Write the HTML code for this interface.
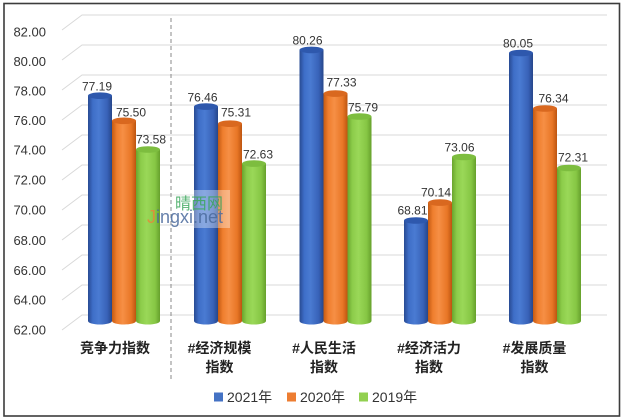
<!DOCTYPE html>
<html><head><meta charset="utf-8">
<style>
html,body{margin:0;padding:0;background:#fff;}
svg{display:block;}
text{font-family:"Liberation Sans","Noto Sans CJK SC",sans-serif;}
</style></head>
<body>
<svg width="626" height="420" viewBox="0 0 626 420" xmlns="http://www.w3.org/2000/svg">
<defs>
<linearGradient id="gb" x1="0" x2="1" y1="0" y2="0">
<stop offset="0" stop-color="#284a92"/><stop offset="0.2" stop-color="#3e6ec8"/><stop offset="0.45" stop-color="#4a7bd2"/><stop offset="0.8" stop-color="#3862b8"/><stop offset="1" stop-color="#26468a"/>
</linearGradient>
<linearGradient id="go" x1="0" x2="1" y1="0" y2="0">
<stop offset="0" stop-color="#c45a12"/><stop offset="0.2" stop-color="#ef7e2e"/><stop offset="0.45" stop-color="#f68f45"/><stop offset="0.8" stop-color="#e87626"/><stop offset="1" stop-color="#bd5510"/>
</linearGradient>
<linearGradient id="gg" x1="0" x2="1" y1="0" y2="0">
<stop offset="0" stop-color="#6aa52e"/><stop offset="0.2" stop-color="#8ccc4a"/><stop offset="0.45" stop-color="#9ad858"/><stop offset="0.8" stop-color="#86c644"/><stop offset="1" stop-color="#66a02c"/>
</linearGradient>
</defs>
<rect x="0" y="0" width="626" height="420" fill="#fff"/>
<rect x="4" y="3.5" width="615.5" height="412.5" fill="#fff" stroke="#3c3c3c" stroke-width="1.6"/>

<!-- gridlines -->
<g stroke="#d9d9d9" stroke-width="1" fill="none">
<path d="M62 30 L82 15 L607 15"/>
<path d="M62 60 L82 45 L607 45"/>
<path d="M62 90 L82 75 L607 75"/>
<path d="M62 120 L82 105 L607 105"/>
<path d="M62 150 L82 135 L607 135"/>
<path d="M62 180 L82 165 L607 165"/>
<path d="M62 210 L82 195 L607 195"/>
<path d="M62 240 L82 225 L607 225"/>
<path d="M62 270 L82 255 L607 255"/>
<path d="M62 300 L82 285 L607 285"/>
<path d="M62 330 L82 315 L607 315"/>
</g>

<!-- y labels -->
<g font-size="13" fill="#333" text-anchor="end">
<text x="46" y="36.5">82.00</text>
<text x="46" y="66">80.00</text>
<text x="46" y="95.5">78.00</text>
<text x="46" y="125">76.00</text>
<text x="46" y="154.5">74.00</text>
<text x="46" y="184.5">72.00</text>
<text x="46" y="214.5">70.00</text>
<text x="46" y="245">68.00</text>
<text x="46" y="275">66.00</text>
<text x="46" y="304.5">64.00</text>
<text x="46" y="334.5">62.00</text>
</g>

<!-- dashed divider -->
<line x1="171" y1="18" x2="171" y2="380" stroke="#8a8a8a" stroke-width="1" stroke-dasharray="4,3"/>

<!-- bars -->
<g>
<rect x="88" y="95.7" width="24" height="225.3" fill="url(#gb)"/><ellipse cx="100" cy="321" rx="12" ry="3.5" fill="url(#gb)"/><ellipse cx="100" cy="95.7" rx="12" ry="3.3" fill="#2e58ad"/>
<rect x="112" y="120.8" width="24" height="200.2" fill="url(#go)"/><ellipse cx="124" cy="321" rx="12" ry="3.5" fill="url(#go)"/><ellipse cx="124" cy="120.8" rx="12" ry="3.3" fill="#d9681f"/>
<rect x="136" y="149.5" width="24" height="171.5" fill="url(#gg)"/><ellipse cx="148" cy="321" rx="12" ry="3.5" fill="url(#gg)"/><ellipse cx="148" cy="149.5" rx="12" ry="3.3" fill="#7dbd3f"/>
<rect x="194" y="106.6" width="24" height="214.4" fill="url(#gb)"/><ellipse cx="206" cy="321" rx="12" ry="3.5" fill="url(#gb)"/><ellipse cx="206" cy="106.6" rx="12" ry="3.3" fill="#2e58ad"/>
<rect x="218" y="123.7" width="24" height="197.3" fill="url(#go)"/><ellipse cx="230" cy="321" rx="12" ry="3.5" fill="url(#go)"/><ellipse cx="230" cy="123.7" rx="12" ry="3.3" fill="#d9681f"/>
<rect x="242" y="163.6" width="24" height="157.4" fill="url(#gg)"/><ellipse cx="254" cy="321" rx="12" ry="3.5" fill="url(#gg)"/><ellipse cx="254" cy="163.6" rx="12" ry="3.3" fill="#7dbd3f"/>
<rect x="299.5" y="49.9" width="24" height="271.1" fill="url(#gb)"/><ellipse cx="311.5" cy="321" rx="12" ry="3.5" fill="url(#gb)"/><ellipse cx="311.5" cy="49.9" rx="12" ry="3.3" fill="#2e58ad"/>
<rect x="323.5" y="93.6" width="24" height="227.4" fill="url(#go)"/><ellipse cx="335.5" cy="321" rx="12" ry="3.5" fill="url(#go)"/><ellipse cx="335.5" cy="93.6" rx="12" ry="3.3" fill="#d9681f"/>
<rect x="347.5" y="116.5" width="24" height="204.5" fill="url(#gg)"/><ellipse cx="359.5" cy="321" rx="12" ry="3.5" fill="url(#gg)"/><ellipse cx="359.5" cy="116.5" rx="12" ry="3.3" fill="#7dbd3f"/>
<rect x="404" y="220.5" width="24" height="100.5" fill="url(#gb)"/><ellipse cx="416" cy="321" rx="12" ry="3.5" fill="url(#gb)"/><ellipse cx="416" cy="220.5" rx="12" ry="3.3" fill="#2e58ad"/>
<rect x="428" y="202.6" width="24" height="118.4" fill="url(#go)"/><ellipse cx="440" cy="321" rx="12" ry="3.5" fill="url(#go)"/><ellipse cx="440" cy="202.6" rx="12" ry="3.3" fill="#d9681f"/>
<rect x="452" y="157" width="24" height="164" fill="url(#gg)"/><ellipse cx="464" cy="321" rx="12" ry="3.5" fill="url(#gg)"/><ellipse cx="464" cy="157" rx="12" ry="3.3" fill="#7dbd3f"/>
<rect x="509" y="53" width="24" height="268" fill="url(#gb)"/><ellipse cx="521" cy="321" rx="12" ry="3.5" fill="url(#gb)"/><ellipse cx="521" cy="53" rx="12" ry="3.3" fill="#2e58ad"/>
<rect x="533" y="108.5" width="24" height="212.5" fill="url(#go)"/><ellipse cx="545" cy="321" rx="12" ry="3.5" fill="url(#go)"/><ellipse cx="545" cy="108.5" rx="12" ry="3.3" fill="#d9681f"/>
<rect x="557" y="168" width="24" height="153" fill="url(#gg)"/><ellipse cx="569" cy="321" rx="12" ry="3.5" fill="url(#gg)"/><ellipse cx="569" cy="168" rx="12" ry="3.3" fill="#7dbd3f"/>
</g>

<!-- data labels -->
<g font-size="12" fill="#333" text-anchor="middle">
<text x="97" y="90.5">77.19</text>
<text x="131" y="116.5">75.50</text>
<text x="151" y="143.5">73.58</text>
<text x="202.5" y="101.5">76.46</text>
<text x="236" y="116.5">75.31</text>
<text x="258" y="158.5">72.63</text>
<text x="307.5" y="44.5">80.26</text>
<text x="341.5" y="86.5">77.33</text>
<text x="363" y="111.5">75.79</text>
<text x="412.5" y="214.5">68.81</text>
<text x="436" y="196.5">70.14</text>
<text x="459.5" y="151.5">73.06</text>
<text x="518" y="47.5">80.05</text>
<text x="553.5" y="102.5">76.34</text>
<text x="573" y="161.5">72.31</text>
</g>

<!-- watermark -->
<rect x="172" y="190" width="58" height="38" fill="#ffffff" fill-opacity="0.35"/>
<text x="175" y="209" font-size="16" fill="#3aa65a" fill-opacity="0.85">晴西网</text>
<text x="147" y="223" font-size="18" fill="#4a6a9c" fill-opacity="0.85"><tspan fill="#e8873a">J</tspan>ingxi.net</text>

<!-- category labels -->
<g font-size="14" font-weight="bold" fill="#222" text-anchor="middle">
<text x="115" y="353">竞争力指数</text>
<text x="219.5" y="353">#经济规模</text>
<text x="219.5" y="372">指数</text>
<text x="324" y="353">#人民生活</text>
<text x="324" y="372">指数</text>
<text x="429" y="353">#经济活力</text>
<text x="429" y="372">指数</text>
<text x="534.5" y="353">#发展质量</text>
<text x="534.5" y="372">指数</text>
</g>

<!-- legend -->
<rect x="214" y="392.5" width="9" height="9" fill="#4472c4"/>
<rect x="287" y="392.5" width="9" height="9" fill="#ed7d31"/>
<rect x="359" y="392.5" width="9" height="9" fill="#92d050"/>
<g font-size="14" fill="#333">
<text x="227" y="402">2021年</text>
<text x="300" y="402">2020年</text>
<text x="372" y="402">2019年</text>
</g>
</svg>
</body></html>
